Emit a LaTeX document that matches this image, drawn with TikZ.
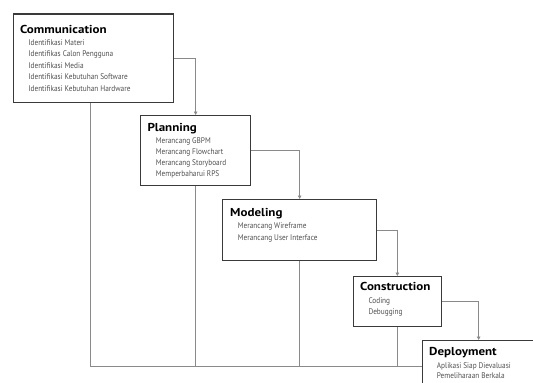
\documentclass[tikz,border=0pt]{standalone}
\usepackage{fontspec}
\setmainfont{PT Sans}
\newfontfamily\ttlfont[FakeStretch=1.13]{PT Sans}
\newfontfamily\itmfont[FakeStretch=0.89]{PT Sans}
\usetikzlibrary{arrows.meta}
\definecolor{boxc}{HTML}{3A3A3A}
\definecolor{linec}{HTML}{8A8A8A}
\definecolor{itemc}{HTML}{505050}
\begin{document}
\begin{tikzpicture}[x=1pt,y=-1pt,
  box/.style={draw=boxc, line width=1.3pt, fill=white, inner sep=0pt, anchor=north west},
  conn/.style={draw=linec, line width=0.8pt},
  arr/.style={conn, -{Triangle[length=3.5pt,width=3.5pt]}},
  ttl/.style={anchor=base west, inner sep=0pt, font=\ttlfont\fontsize{11.5}{12}\bfseries\selectfont, text=black},
  itm/.style={anchor=base west, inner sep=0pt, font=\itmfont\fontsize{8.2}{10}\selectfont, text=itemc}]
\useasboundingbox (0,0) rectangle (533,383);
\clip (0,0) rectangle (533,383);
% boxes
\node[box, minimum width=160pt, minimum height=88.4pt] (comm) at (12.7,13.3) {};
\node[box, minimum width=110pt, minimum height=70pt] (plan) at (140,115) {};
\node[box, minimum width=154pt, minimum height=61pt] (model) at (222,199) {};
\node[box, minimum width=88pt, minimum height=50pt] (constr) at (352.7,276) {};
\node[box, minimum width=112pt, minimum height=52pt] (dep) at (422,340) {};
% connectors
\draw[arr] (comm.east) -| (plan.north);
\draw[arr] (plan.east) -| (model.north);
\draw[arr] (model.east) -| (constr.north);
\draw[arr] (constr.east) -| (dep.north);
\draw[conn] ([xshift=-3.4pt]comm.south) |- (dep.west);
\draw[conn] (plan.south) -- (plan.south |- dep.west);
\draw[conn] (model.south) -- (model.south |- dep.west);
\draw[conn] (constr.south) -- (constr.south |- dep.west);
% texts
\node[ttl] (commT) at (20,33.8) {Communication};
\foreach \t [count=\i] in {Identifikasi Materi, Identifikas Calon Pengguna, Identifikasi Media, Identifikasi Kebutuhan Software, Identifikasi Kebutuhan Hardware}
  \node[itm] (commI\i) at (28.3,{45.5+(\i-1)*11.4}) {\t};
\node[ttl] (planT) at (147.3,131) {Planning};
\foreach \t [count=\i] in {Merancang GBPM, Merancang Flowchart, Merancang Storyboard, Memperbaharui RPS}
  \node[itm] (planI\i) at (155.7,{143+(\i-1)*11.1}) {\t};
\node[ttl] (modelT) at (230,216.5) {Modeling};
\foreach \t [count=\i] in {Merancang Wireframe, Merancang User Interface}
  \node[itm] (modelI\i) at (237.7,{228+(\i-1)*12}) {\t};
\node[ttl] (constrT) at (360,290.5) {Construction};
\foreach \t [count=\i] in {Coding, Debugging}
  \node[itm] (constrI\i) at (368.3,{303+(\i-1)*11}) {\t};
\node[ttl] (depT) at (429,355.5) {Deployment};
\foreach \t [count=\i] in {Aplikasi Siap Dievaluasi, Pemeliharaan Berkala}
  \node[itm] (depI\i) at (436.7,{368+(\i-1)*10.8}) {\t};
\end{tikzpicture}
\end{document}
